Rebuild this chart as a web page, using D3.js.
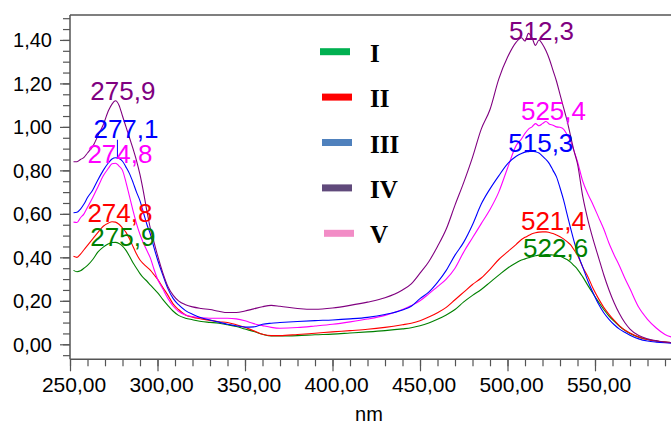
<!DOCTYPE html>
<html>
<head>
<meta charset="utf-8">
<script src="https://cdn.jsdelivr.net/npm/d3@7/dist/d3.min.js"></script>
<style>
  html, body { margin: 0; padding: 0; background: #fff; }
  svg { display: block; }
</style>
</head>
<body>
<svg id="chart" width="671" height="423"></svg>
<script>
// Absorption spectra of samples I–V
const wavelengths = [252,254,256,258,260,263,266,269,272,274,276,278,280,282,284,286,288,290,292,294,296,298,300,303,306,309,312,316,320,325,330,335,340,345,350,355,360,365,370,380,390,400,410,420,430,440,445,450,455,460,465,470,475,480,485,490,495,500,505,508,510,512,514,516,518,520,522,524,526,528,530,532,534,536,538,540,543,546,549,552,555,558,561,564,567,570,575,580,585,590,595,600];

const seriesI = [0.340,0.334,0.338,0.350,0.363,0.390,0.425,0.447,0.462,0.468,0.469,0.464,0.452,0.432,0.405,0.375,0.350,0.325,0.305,0.290,0.272,0.255,0.238,0.207,0.178,0.152,0.133,0.120,0.113,0.105,0.101,0.097,0.090,0.082,0.070,0.059,0.046,0.038,0.038,0.040,0.044,0.047,0.052,0.057,0.063,0.071,0.076,0.085,0.098,0.115,0.135,0.160,0.195,0.225,0.252,0.285,0.318,0.350,0.375,0.388,0.393,0.398,0.403,0.407,0.410,0.411,0.413,0.412,0.411,0.410,0.405,0.398,0.390,0.378,0.362,0.345,0.310,0.270,0.232,0.195,0.160,0.130,0.105,0.083,0.064,0.050,0.033,0.022,0.015,0.010,0.008,0.006];

const seriesII = [0.405,0.400,0.415,0.435,0.455,0.485,0.515,0.543,0.558,0.564,0.562,0.552,0.535,0.515,0.485,0.450,0.415,0.388,0.370,0.355,0.340,0.320,0.300,0.262,0.225,0.185,0.160,0.135,0.125,0.117,0.110,0.104,0.100,0.090,0.078,0.062,0.046,0.040,0.040,0.045,0.051,0.057,0.063,0.069,0.078,0.090,0.097,0.108,0.125,0.145,0.170,0.205,0.240,0.275,0.305,0.345,0.390,0.425,0.460,0.482,0.492,0.500,0.508,0.513,0.516,0.517,0.517,0.514,0.510,0.503,0.495,0.485,0.472,0.458,0.435,0.410,0.355,0.310,0.255,0.210,0.170,0.138,0.110,0.085,0.066,0.052,0.034,0.022,0.015,0.010,0.008,0.006];

const seriesIII = [0.605,0.607,0.622,0.645,0.675,0.710,0.757,0.800,0.835,0.852,0.858,0.855,0.842,0.815,0.785,0.745,0.700,0.660,0.605,0.550,0.505,0.445,0.390,0.320,0.255,0.210,0.182,0.155,0.138,0.122,0.112,0.102,0.092,0.085,0.079,0.080,0.092,0.097,0.100,0.105,0.109,0.112,0.117,0.124,0.137,0.158,0.175,0.210,0.240,0.285,0.340,0.410,0.470,0.550,0.645,0.715,0.775,0.830,0.865,0.878,0.884,0.886,0.888,0.886,0.880,0.866,0.850,0.830,0.800,0.770,0.720,0.665,0.600,0.535,0.475,0.420,0.355,0.290,0.235,0.185,0.145,0.115,0.090,0.070,0.055,0.042,0.025,0.015,0.010,0.007,0.005,0.004];

const seriesIV = [0.840,0.840,0.850,0.860,0.880,0.910,0.960,1.010,1.075,1.105,1.120,1.100,1.050,1.000,0.950,0.900,0.845,0.780,0.700,0.610,0.530,0.470,0.410,0.330,0.265,0.225,0.200,0.182,0.172,0.165,0.160,0.152,0.146,0.146,0.153,0.163,0.173,0.179,0.175,0.165,0.161,0.167,0.179,0.194,0.214,0.250,0.278,0.327,0.380,0.450,0.530,0.640,0.745,0.860,0.990,1.080,1.220,1.320,1.390,1.410,1.395,1.430,1.410,1.375,1.400,1.380,1.350,1.310,1.260,1.210,1.150,1.090,1.030,0.960,0.890,0.830,0.680,0.570,0.480,0.400,0.320,0.250,0.190,0.140,0.100,0.070,0.040,0.025,0.017,0.010,0.007,0.005];

const seriesV = [0.562,0.560,0.582,0.600,0.630,0.675,0.725,0.775,0.810,0.830,0.833,0.820,0.800,0.745,0.680,0.615,0.555,0.505,0.465,0.430,0.395,0.345,0.300,0.255,0.210,0.175,0.152,0.135,0.127,0.122,0.120,0.120,0.120,0.117,0.108,0.095,0.086,0.078,0.074,0.077,0.084,0.092,0.103,0.116,0.133,0.160,0.178,0.200,0.232,0.265,0.300,0.350,0.425,0.490,0.555,0.620,0.700,0.810,0.915,0.945,0.970,0.990,1.000,1.015,1.005,1.015,1.025,1.012,1.008,1.000,0.998,0.990,0.965,0.935,0.890,0.840,0.750,0.690,0.640,0.585,0.530,0.465,0.410,0.360,0.305,0.255,0.170,0.115,0.075,0.045,0.030,0.020];

const seriesNames = ["I", "II", "III", "IV", "V"];
const lineColors = ["#008000", "#ff0000", "#0000ff", "#800080", "#ff00ff"];
const legendColors = ["#00b050", "#ff0000", "#4f81bd", "#604a7b", "#f28cc6"];

// Peak annotations: series index, wavelength, absorbance
const peakSeries = [3, 2, 4, 1, 0, 3, 4, 2, 1, 0];
const peakNm = [275.9, 277.1, 274.8, 274.8, 275.9, 512.3, 525.4, 515.3, 521.4, 522.6];
const peakAbs = [1.120, 0.858, 0.833, 0.564, 0.469, 1.430, 1.025, 0.888, 0.517, 0.413];

const xTicks = [250, 300, 350, 400, 450, 500, 550];
const yTicks = [0, 0.2, 0.4, 0.6, 0.8, 1.0, 1.2, 1.4];
const fmtComma = v => v.toFixed(2).replace(".", ",");

const svg = d3.select("#chart");
const W = 671, H = 423;
const plotLeft = 70, plotTop = 15, plotBottom = 359.3;

const x = d3.scaleLinear().domain([250, 600]).range([plotLeft, 682.5]);
const y = d3.scaleLinear().domain([-0.069, 1.5147]).range([plotBottom, plotTop]);

const axisColor = "#555";

// clip to plot region
svg.append("defs").append("clipPath").attr("id", "plotClip")
  .append("rect").attr("x", plotLeft).attr("y", plotTop)
  .attr("width", W - plotLeft).attr("height", plotBottom - plotTop);

// top border
svg.append("line").attr("x1", plotLeft).attr("x2", W).attr("y1", plotTop).attr("y2", plotTop)
  .attr("stroke", axisColor).attr("stroke-width", 1.3);

// y axis with major and minor ticks
const yMinor = d3.range(-0.05, 1.5001, 0.05);
const yAxisMinor = d3.axisLeft(y).tickValues(yMinor).tickSize(7).tickFormat("");
const yAxisMajor = d3.axisLeft(y).tickValues(yTicks).tickSize(10).tickPadding(8).tickFormat(fmtComma);
const gyMinor = svg.append("g").attr("transform", `translate(${plotLeft},0)`).call(yAxisMinor);
const gy = svg.append("g").attr("transform", `translate(${plotLeft},0)`).call(yAxisMajor);
[gyMinor, gy].forEach(g => {
  g.select(".domain").remove();
  g.selectAll("line").attr("stroke", axisColor).attr("stroke-width", 1.2);
});
gy.selectAll("text").attr("font-family", "Liberation Sans, Arial, sans-serif")
  .attr("font-size", 20).attr("fill", "#000").attr("dy", "0.35em");
svg.append("line").attr("x1", plotLeft).attr("x2", plotLeft).attr("y1", plotTop).attr("y2", plotBottom)
  .attr("stroke", axisColor).attr("stroke-width", 1.5);

// x axis with major and minor ticks
const xMinor = d3.range(250, 600, 10);
const xAxisMinor = d3.axisBottom(x).tickValues(xMinor).tickSize(7).tickFormat("");
const xAxisMajor = d3.axisBottom(x).tickValues(xTicks).tickSize(12).tickPadding(6).tickFormat(fmtComma);
const gxMinor = svg.append("g").attr("transform", `translate(0,${plotBottom})`).call(xAxisMinor);
const gx = svg.append("g").attr("transform", `translate(0,${plotBottom})`).call(xAxisMajor);
[gxMinor, gx].forEach(g => {
  g.select(".domain").remove();
  g.selectAll("line").attr("stroke", axisColor).attr("stroke-width", 1.2);
});
gx.selectAll("text").attr("font-family", "Liberation Sans, Arial, sans-serif")
  .attr("font-size", 21).attr("fill", "#000").attr("dx", 3.5).attr("dy", "0.72em");
svg.append("line").attr("x1", plotLeft).attr("x2", W).attr("y1", plotBottom).attr("y2", plotBottom)
  .attr("stroke", axisColor).attr("stroke-width", 1.5);

// axis title
svg.append("text").attr("x", 369).attr("y", 421).attr("text-anchor", "middle")
  .attr("font-family", "Liberation Sans, Arial, sans-serif").attr("font-size", 20)
  .attr("fill", "#000").text("nm");

// spectra
const allSeries = [seriesI, seriesII, seriesIII, seriesIV, seriesV];
const line = d3.line().x(d => x(d[0])).y(d => y(d[1])).curve(d3.curveMonotoneX);
const plot = svg.append("g").attr("clip-path", "url(#plotClip)");
[0, 1, 4, 2, 3].forEach(i => {
  const pts = wavelengths.map((w, k) => [w, allSeries[i][k]]);
  plot.append("path").datum(pts).attr("d", line)
    .attr("fill", "none").attr("stroke", lineColors[i]).attr("stroke-width", 1.1);
});

// peak labels (offsets relative to the peak, in px)
const labelDx = [-25, -24, -26, -26, -25, -20, -31, -26, -24, -24];
const labelDy = [-1, -20, 0, 0, 4, 7, -1.5, 1, -2, 2.5];
peakNm.forEach((nm, j) => {
  const px = x(nm), py = y(peakAbs[j]);
  const col = lineColors[peakSeries[j]];
  const by = py + labelDy[j];
  if (py - by > 3) {
    svg.append("line").attr("x1", px).attr("x2", px).attr("y1", by + 2).attr("y2", py)
      .attr("stroke", col).attr("stroke-width", 1);
  }
  svg.append("text").attr("x", px + labelDx[j]).attr("y", by)
    .attr("font-family", "Liberation Sans, Arial, sans-serif").attr("font-size", 26)
    .attr("fill", col).text(nm.toFixed(1).replace(".", ","));
});

// legend
const legend = svg.append("g");
seriesNames.forEach((name, i) => {
  const cy = 51.7 + i * 45.4;
  const sx = i === 0 ? 320 : (i === 4 ? 324 : 322);
  legend.append("rect").attr("x", sx).attr("y", cy - 3.5).attr("width", 30).attr("height", 7)
    .attr("fill", legendColors[i]);
  legend.append("text").attr("x", 370).attr("y", cy + 10)
    .attr("font-family", "Liberation Serif, Times New Roman, serif").attr("font-weight", "bold")
    .attr("font-size", 25).attr("fill", "#000").text(name);
});
</script>
</body>
</html>
